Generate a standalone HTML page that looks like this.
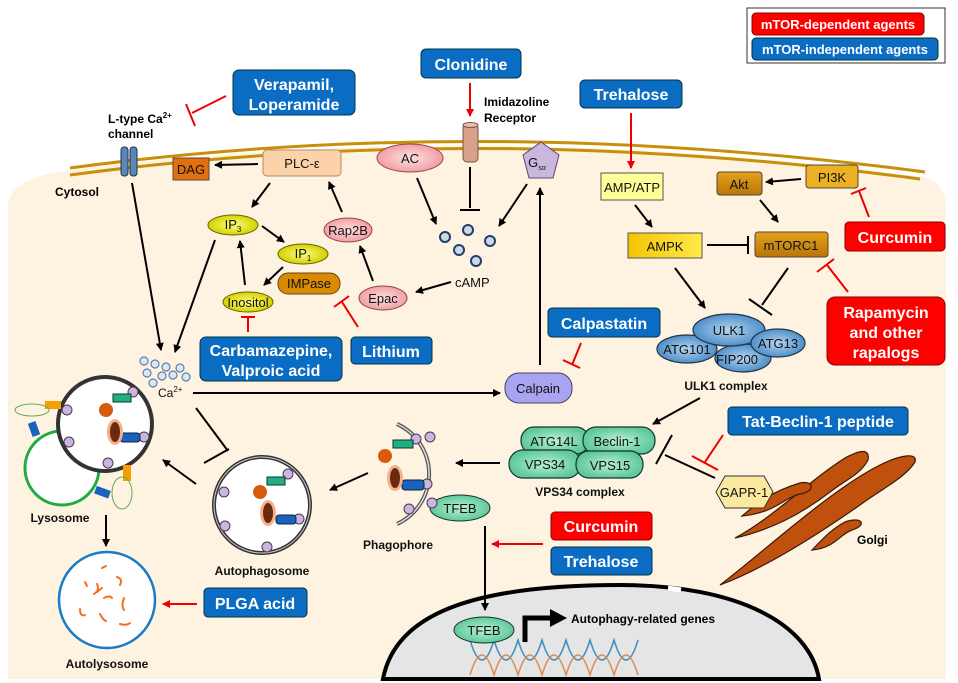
<!DOCTYPE html>
<html><head><meta charset="utf-8"><style>
html,body{margin:0;padding:0;background:#fff}
svg{display:block}
text{font-family:"Liberation Sans",Arial,sans-serif}
.b{font-weight:bold}
.w{fill:#fff;font-weight:bold;text-anchor:middle}
.n{font-size:13px;text-anchor:middle;fill:#111}
.lb{font-size:12px;font-weight:bold;fill:#111;text-anchor:middle}
</style></head><body>
<svg width="958" height="683" viewBox="0 0 958 683" xmlns="http://www.w3.org/2000/svg">
<defs>
<marker id="a" markerWidth="8" markerHeight="8" refX="7" refY="4" orient="auto" markerUnits="userSpaceOnUse"><path d="M0,0 L8,4 L0,8 Z" fill="#000"/></marker>
<marker id="r" markerWidth="8" markerHeight="8" refX="7" refY="4" orient="auto" markerUnits="userSpaceOnUse"><path d="M0,0 L8,4 L0,8 Z" fill="#e00"/></marker>
<linearGradient id="gy" x1="0" x2="1"><stop offset="0" stop-color="#f5c400"/><stop offset="1" stop-color="#ffe94a"/></linearGradient>
<linearGradient id="gd" x1="0" x2="0" y1="0" y2="1"><stop offset="0" stop-color="#e3a21a"/><stop offset="1" stop-color="#b9750a"/></linearGradient>
<radialGradient id="gb"><stop offset="0" stop-color="#b3d4ef"/><stop offset="1" stop-color="#4f8fc8"/></radialGradient>
<radialGradient id="gg"><stop offset="0" stop-color="#b9f0d3"/><stop offset="1" stop-color="#5fc99a"/></radialGradient>
<radialGradient id="gp"><stop offset="0" stop-color="#fde0e0"/><stop offset="1" stop-color="#f0a0a5"/></radialGradient>
<radialGradient id="gyl"><stop offset="0" stop-color="#fbff80"/><stop offset="1" stop-color="#d4d000"/></radialGradient>
</defs>

<!-- cell -->
<path d="M8,205 Q10,178 70,170 Q480,118 925,177 Q946,185 946,205 L946,679 L8,679 Z" fill="#fdf3e0"/>
<path d="M70,168 Q480,113 925,172" fill="none" stroke="#c8900a" stroke-width="3"/>
<path d="M70,175 Q480,120 920,179" fill="none" stroke="#c8900a" stroke-width="3"/>

<!-- legend -->
<rect x="747" y="8" width="198" height="55" fill="#fff" stroke="#333"/>
<rect x="752" y="13" width="172" height="22" rx="4" fill="#f00" stroke="#800"/>
<text x="838" y="29" class="w" font-size="13">mTOR-dependent agents</text>
<rect x="752" y="38" width="186" height="22" rx="4" fill="#0a6cc2" stroke="#033"/>
<text x="845" y="54" class="w" font-size="13">mTOR-independent agents</text>

<!-- top agents -->
<rect x="233" y="70" width="122" height="45" rx="6" fill="#0a6cc2" stroke="#034"/>
<text x="294" y="90" class="w" font-size="16">Verapamil,</text>
<text x="294" y="110" class="w" font-size="16">Loperamide</text>
<line x1="226" y1="96" x2="192" y2="113" stroke="#e00" stroke-width="2"/>
<line x1="186" y1="104" x2="195" y2="126" stroke="#e00" stroke-width="2"/>

<rect x="421" y="49" width="100" height="29" rx="5" fill="#0a6cc2" stroke="#034"/>
<text x="471" y="70" class="w" font-size="16">Clonidine</text>
<line x1="470" y1="83" x2="470" y2="116" stroke="#e00" stroke-width="2" marker-end="url(#r)"/>
<text x="484" y="106" font-size="12" class="b">Imidazoline</text>
<text x="484" y="122" font-size="12" class="b">Receptor</text>

<rect x="580" y="80" width="102" height="28" rx="5" fill="#0a6cc2" stroke="#034"/>
<text x="631" y="100" class="w" font-size="16">Trehalose</text>
<line x1="631" y1="113" x2="631" y2="168" stroke="#e00" stroke-width="2" marker-end="url(#r)"/>

<!-- L-type -->
<text x="108" y="123" font-size="12" class="b">L-type Ca<tspan font-size="8" dy="-5">2+</tspan></text>
<text x="108" y="138" font-size="12" class="b">channel</text>
<rect x="121" y="147" width="7" height="29" rx="3" fill="#5a86b8" stroke="#234"/>
<rect x="130" y="147" width="7" height="29" rx="3" fill="#5a86b8" stroke="#234"/>
<text x="55" y="196" font-size="12" class="b">Cytosol</text>
<line x1="132" y1="183" x2="161" y2="350" stroke="#000" stroke-width="2" marker-end="url(#a)"/>

<!-- DAG, PLC -->
<rect x="173" y="158" width="36" height="22" fill="#e07010" stroke="#643"/>
<text x="191" y="174" class="n">DAG</text>
<rect x="263" y="150" width="78" height="26" rx="4" fill="#fcd3a8" stroke="#b86"/>
<text x="302" y="168" class="n">PLC-ε</text>
<line x1="258" y1="164" x2="215" y2="165" stroke="#000" stroke-width="2" marker-end="url(#a)"/>
<line x1="270" y1="183" x2="252" y2="207" stroke="#000" stroke-width="2" marker-end="url(#a)"/>

<ellipse cx="233" cy="225" rx="25" ry="10" fill="url(#gyl)" stroke="#660"/>
<text x="233" y="229" class="n">IP<tspan font-size="8" dy="3">3</tspan></text>
<ellipse cx="303" cy="254" rx="25" ry="10" fill="url(#gyl)" stroke="#660"/>
<text x="303" y="258" class="n">IP<tspan font-size="8" dy="3">1</tspan></text>
<rect x="278" y="273" width="62" height="21" rx="10" fill="#d98a00" stroke="#642"/>
<text x="309" y="288" class="n">IMPase</text>
<ellipse cx="248" cy="302" rx="25" ry="10" fill="url(#gyl)" stroke="#660"/>
<text x="248" y="307" class="n">Inositol</text>
<line x1="262" y1="226" x2="284" y2="242" stroke="#000" stroke-width="2" marker-end="url(#a)"/>
<line x1="283" y1="267" x2="264" y2="285" stroke="#000" stroke-width="2" marker-end="url(#a)"/>
<line x1="245" y1="285" x2="240" y2="241" stroke="#000" stroke-width="2" marker-end="url(#a)"/>
<line x1="215" y1="240" x2="175" y2="352" stroke="#000" stroke-width="2" marker-end="url(#a)"/>

<ellipse cx="348" cy="230" rx="24" ry="12" fill="url(#gp)" stroke="#944"/>
<text x="348" y="235" class="n">Rap2B</text>
<ellipse cx="383" cy="298" rx="24" ry="12" fill="url(#gp)" stroke="#944"/>
<text x="383" y="303" class="n">Epac</text>
<line x1="373" y1="281" x2="360" y2="246" stroke="#000" stroke-width="2" marker-end="url(#a)"/>
<line x1="342" y1="212" x2="329" y2="182" stroke="#000" stroke-width="2" marker-end="url(#a)"/>
<line x1="451" y1="282" x2="416" y2="292" stroke="#000" stroke-width="2" marker-end="url(#a)"/>

<!-- Carbamazepine / Lithium -->
<line x1="248" y1="332" x2="248" y2="317" stroke="#e00" stroke-width="2"/>
<line x1="241" y1="317" x2="255" y2="317" stroke="#e00" stroke-width="2"/>
<line x1="358" y1="327" x2="342" y2="302" stroke="#e00" stroke-width="2"/>
<line x1="334" y1="307" x2="349" y2="296" stroke="#e00" stroke-width="2"/>
<rect x="200" y="337" width="142" height="44" rx="6" fill="#0a6cc2" stroke="#034"/>
<text x="271" y="356" class="w" font-size="16">Carbamazepine,</text>
<text x="271" y="376" class="w" font-size="16">Valproic acid</text>
<rect x="351" y="337" width="81" height="27" rx="4" fill="#0a6cc2" stroke="#034"/>
<text x="391" y="357" class="w" font-size="16">Lithium</text>

<!-- AC, receptor, Gsa, cAMP -->
<ellipse cx="410" cy="158" rx="33" ry="14" fill="url(#gp)" stroke="#944"/>
<text x="410" y="163" class="n">AC</text>
<rect x="463" y="124" width="15" height="38" rx="4" fill="#d9a08a" stroke="#754"/>
<ellipse cx="470.5" cy="125" rx="7.5" ry="2.5" fill="#e9c0b0" stroke="#754"/>
<line x1="470" y1="167" x2="470" y2="208" stroke="#000" stroke-width="2"/>
<line x1="460" y1="210" x2="480" y2="210" stroke="#000" stroke-width="2"/>
<polygon points="541,142 559,155 553,178 529,178 523,155" fill="#c8b8de" stroke="#646"/>
<text x="537" y="167" class="n">G<tspan font-size="7" dy="3">sα</tspan></text>
<line x1="417" y1="178" x2="436" y2="224" stroke="#000" stroke-width="2" marker-end="url(#a)"/>
<line x1="527" y1="184" x2="499" y2="226" stroke="#000" stroke-width="2" marker-end="url(#a)"/>
<g fill="#cfd8e2" stroke="#1f3f70" stroke-width="2">
<circle cx="445" cy="237" r="5"/><circle cx="468" cy="230" r="5"/><circle cx="459" cy="250" r="5"/><circle cx="476" cy="261" r="5"/><circle cx="490" cy="241" r="5"/>
</g>
<text x="455" y="287" font-size="13" fill="#111">cAMP</text>

<!-- Calpain -->
<line x1="540" y1="365" x2="540" y2="188" stroke="#000" stroke-width="2" marker-end="url(#a)"/>
<rect x="505" y="373" width="67" height="30" rx="14" fill="#a8a4f0" stroke="#446"/>
<text x="538" y="393" class="n">Calpain</text>
<rect x="548" y="308" width="112" height="29" rx="4" fill="#0a6cc2" stroke="#034"/>
<text x="604" y="329" class="w" font-size="16">Calpastatin</text>
<line x1="581" y1="343" x2="572" y2="365" stroke="#e00" stroke-width="2"/>
<line x1="563" y1="360" x2="580" y2="368" stroke="#e00" stroke-width="2"/>
<text x="158" y="397" font-size="12" fill="#111">Ca<tspan font-size="8" dy="-5">2+</tspan></text>
<g fill="#dde6f3" stroke="#5d7fa8" stroke-width="1.2">
<circle cx="144" cy="361" r="4"/><circle cx="155" cy="364" r="4"/><circle cx="166" cy="367" r="4"/><circle cx="180" cy="368" r="4"/><circle cx="147" cy="373" r="4"/><circle cx="162" cy="376" r="4"/><circle cx="173" cy="375" r="4"/><circle cx="186" cy="377" r="4"/><circle cx="153" cy="383" r="4"/>
</g>
<line x1="193" y1="393" x2="500" y2="393" stroke="#000" stroke-width="2" marker-end="url(#a)"/>

<!-- AMPK/mTOR -->
<rect x="601" y="173" width="62" height="27" fill="#ffff99" stroke="#555"/>
<text x="632" y="192" class="n">AMP/ATP</text>
<line x1="635" y1="205" x2="652" y2="227" stroke="#000" stroke-width="2" marker-end="url(#a)"/>
<rect x="628" y="233" width="74" height="25" fill="url(#gy)" stroke="#555"/>
<text x="665" y="251" class="n">AMPK</text>
<line x1="707" y1="245" x2="748" y2="245" stroke="#000" stroke-width="2"/>
<line x1="748" y1="236" x2="748" y2="254" stroke="#000" stroke-width="2"/>
<rect x="755" y="232" width="73" height="25" rx="3" fill="url(#gd)" stroke="#543"/>
<text x="791" y="250" class="n">mTORC1</text>
<rect x="717" y="172" width="45" height="23" rx="3" fill="url(#gd)" stroke="#543"/>
<text x="739" y="189" class="n">Akt</text>
<rect x="806" y="165" width="52" height="23" rx="3" fill="#ecb024" stroke="#543"/>
<text x="832" y="182" class="n">PI3K</text>
<line x1="801" y1="179" x2="766" y2="182" stroke="#000" stroke-width="2" marker-end="url(#a)"/>
<line x1="760" y1="200" x2="778" y2="222" stroke="#000" stroke-width="2" marker-end="url(#a)"/>
<rect x="845" y="222" width="100" height="29" rx="4" fill="#f00" stroke="#800"/>
<text x="895" y="243" class="w" font-size="16">Curcumin</text>
<line x1="869" y1="217" x2="859" y2="191" stroke="#e00" stroke-width="2"/>
<line x1="851" y1="194" x2="866" y2="188" stroke="#e00" stroke-width="2"/>
<rect x="827" y="297" width="118" height="68" rx="8" fill="#f00" stroke="#800"/>
<text x="886" y="318" class="w" font-size="16">Rapamycin</text>
<text x="886" y="338" class="w" font-size="16">and other</text>
<text x="886" y="358" class="w" font-size="16">rapalogs</text>
<line x1="848" y1="292" x2="827" y2="265" stroke="#e00" stroke-width="2"/>
<line x1="817" y1="272" x2="834" y2="259" stroke="#e00" stroke-width="2"/>
<line x1="675" y1="268" x2="705" y2="308" stroke="#000" stroke-width="2" marker-end="url(#a)"/>
<line x1="788" y1="268" x2="762" y2="305" stroke="#000" stroke-width="2"/>
<line x1="749" y1="299" x2="772" y2="315" stroke="#000" stroke-width="2"/>

<!-- ULK1 complex -->
<g stroke="#234" stroke-width="1.2">
<ellipse cx="687" cy="349" rx="30" ry="14" fill="url(#gb)"/>
<ellipse cx="743" cy="358" rx="28" ry="14" fill="url(#gb)"/>
<ellipse cx="729" cy="330" rx="36" ry="16" fill="url(#gb)"/>
<ellipse cx="778" cy="343" rx="27" ry="14" fill="url(#gb)"/>
</g>
<text x="729" y="335" class="n">ULK1</text>
<text x="687" y="354" class="n">ATG101</text>
<text x="737" y="364" class="n">FIP200</text>
<text x="778" y="348" class="n">ATG13</text>
<text x="726" y="390" class="lb">ULK1 complex</text>
<line x1="700" y1="398" x2="653" y2="424" stroke="#000" stroke-width="2" marker-end="url(#a)"/>

<!-- VPS34 -->
<rect x="728" y="407" width="180" height="28" rx="4" fill="#0a6cc2" stroke="#034"/>
<text x="818" y="427" class="w" font-size="16">Tat-Beclin-1 peptide</text>
<g stroke="#133" stroke-width="1.2" fill="url(#gg)">
<rect x="521" y="427" width="68" height="27" rx="13"/>
<rect x="583" y="427" width="72" height="27" rx="13"/>
<rect x="509" y="450" width="72" height="28" rx="14"/>
<rect x="576" y="451" width="67" height="27" rx="13"/>
</g>
<text x="554" y="446" class="n">ATG14L</text>
<text x="617" y="446" class="n">Beclin-1</text>
<text x="545" y="469" class="n">VPS34</text>
<text x="610" y="470" class="n">VPS15</text>
<text x="580" y="496" class="lb">VPS34 complex</text>
<line x1="715" y1="478" x2="665" y2="455" stroke="#000" stroke-width="2"/>
<line x1="656" y1="464" x2="672" y2="435" stroke="#000" stroke-width="2"/>
<line x1="723" y1="435" x2="705" y2="462" stroke="#e00" stroke-width="2"/>
<line x1="692" y1="456" x2="718" y2="470" stroke="#e00" stroke-width="2"/>
<line x1="500" y1="463" x2="456" y2="463" stroke="#000" stroke-width="2" marker-end="url(#a)"/>

<!-- Golgi -->
<g fill="#c0500e" stroke="#3a1a05" stroke-width="1.2">
<path d="M720,585 C760,555 830,490 880,465 C900,455 918,452 915,462 C905,478 880,490 860,505 C810,540 760,570 720,585 Z"/>
<path d="M735,538 C770,520 810,480 845,458 C860,450 870,448 868,460 C860,475 845,480 830,492 C800,515 770,530 735,538 Z"/>
<path d="M742,516 C755,505 770,492 800,483 C815,480 815,492 800,494 C785,497 775,513 742,516 Z"/>
<path d="M812,550 C822,540 830,530 845,522 C862,516 868,525 852,530 C840,534 835,548 812,550 Z"/>
</g>
<polygon points="725,476 764,476 773,492 764,508 725,508 716,492" fill="#fbe9a0" stroke="#333"/>
<text x="744" y="497" class="n">GAPR-1</text>
<text x="857" y="544" font-size="12" class="b">Golgi</text>

<!-- nucleus -->
<path d="M383,679 C395,615 470,585 620,585 C740,585 810,625 819,679 Z" fill="#e5e5e5" stroke="#000" stroke-width="4"/>
<line x1="668" y1="588" x2="681" y2="590" stroke="#fff" stroke-width="5"/>
<g fill="none" stroke-width="1.5">
<path d="M470,640 q12,40 24,0 q12,40 24,0 q12,40 24,0 q12,40 24,0 q12,40 24,0 q12,40 24,0 q12,40 24,0" stroke="#3a8cc0"/>
<path d="M470,675 q12,-40 24,0 q12,-40 24,0 q12,-40 24,0 q12,-40 24,0 q12,-40 24,0 q12,-40 24,0 q12,-40 24,0" stroke="#e08a50"/>
</g>
<ellipse cx="460" cy="508" rx="30" ry="13" fill="url(#gg)" stroke="#133"/>
<text x="460" y="513" class="n">TFEB</text>
<line x1="485" y1="526" x2="485" y2="610" stroke="#000" stroke-width="2" marker-end="url(#a)"/>
<ellipse cx="484" cy="630" rx="30" ry="13" fill="url(#gg)" stroke="#133"/>
<text x="484" y="635" class="n">TFEB</text>
<path d="M525,642 L525,618 L552,618" fill="none" stroke="#000" stroke-width="5"/>
<polygon points="550,609 567,618 550,627" fill="#000"/>
<text x="571" y="623" font-size="12" class="b">Autophagy-related genes</text>
<rect x="551" y="512" width="101" height="28" rx="4" fill="#f00" stroke="#800"/>
<text x="601" y="532" class="w" font-size="16">Curcumin</text>
<rect x="551" y="547" width="101" height="28" rx="4" fill="#0a6cc2" stroke="#034"/>
<text x="601" y="567" class="w" font-size="16">Trehalose</text>
<line x1="543" y1="544" x2="492" y2="544" stroke="#e00" stroke-width="2" marker-end="url(#r)"/>

<!-- phagophore -->
<path d="M397,424 A55,55 0 0 1 397,524" fill="none" stroke="#555" stroke-width="4"/>
<path d="M397,424 A55,55 0 0 1 397,524" fill="none" stroke="#ddd" stroke-width="1.5"/>
<g fill="#c8b8e0" stroke="#535"><circle cx="416" cy="439" r="5"/><circle cx="430" cy="437" r="5"/><circle cx="427" cy="484" r="5"/><circle cx="432" cy="503" r="5"/><circle cx="409" cy="509" r="5"/></g>
<rect x="393" y="440" width="20" height="8" fill="#1fb080" stroke="#133"/>
<rect x="402" y="480" width="22" height="10" rx="3" fill="#1a62c0" stroke="#123"/>
<ellipse cx="395" cy="478" rx="8" ry="13" fill="#f7b08c"/><ellipse cx="395" cy="478" rx="5" ry="10" fill="#6a2a10"/>
<circle cx="385" cy="456" r="7" fill="#d85a0c"/>
<text x="398" y="549" class="lb">Phagophore</text>
<line x1="368" y1="473" x2="330" y2="490" stroke="#000" stroke-width="2" marker-end="url(#a)"/>

<!-- autophagosome -->
<circle cx="262" cy="505" r="48" fill="#fff" stroke="#333" stroke-width="4"/>
<circle cx="262" cy="505" r="48" fill="none" stroke="#ccc" stroke-width="1"/>
<g fill="#c8b8e0" stroke="#535"><circle cx="288" cy="474" r="5"/><circle cx="224" cy="492" r="5"/><circle cx="225" cy="526" r="5"/><circle cx="299" cy="519" r="5"/><circle cx="267" cy="547" r="5"/></g>
<rect x="267" y="477" width="18" height="8" fill="#1fb080" stroke="#133"/>
<rect x="276" y="515" width="20" height="9" rx="3" fill="#1a62c0" stroke="#123"/>
<ellipse cx="268" cy="513" rx="8" ry="13" fill="#f7b08c"/><ellipse cx="268" cy="513" rx="5" ry="10" fill="#6a2a10"/>
<circle cx="260" cy="492" r="7" fill="#d85a0c"/>
<text x="262" y="575" class="lb">Autophagosome</text>
<line x1="196" y1="408" x2="228" y2="451" stroke="#000" stroke-width="2"/>
<line x1="204" y1="463" x2="229" y2="449" stroke="#000" stroke-width="2"/>
<line x1="196" y1="484" x2="163" y2="460" stroke="#000" stroke-width="2" marker-end="url(#a)"/>

<!-- lysosome & fused -->
<circle cx="62" cy="468" r="37" fill="#fff" stroke="#22aa44" stroke-width="3"/>
<circle cx="105" cy="424" r="47" fill="#fff" stroke="#333" stroke-width="4"/>
<g fill="#c8b8e0" stroke="#535"><circle cx="133" cy="392" r="5"/><circle cx="67" cy="410" r="5"/><circle cx="69" cy="442" r="5"/><circle cx="144" cy="437" r="5"/><circle cx="108" cy="463" r="5"/></g>
<rect x="113" y="394" width="18" height="8" fill="#1fb080" stroke="#133"/>
<rect x="120" y="433" width="20" height="9" rx="3" fill="#1a62c0" stroke="#123"/>
<ellipse cx="115" cy="432" rx="8" ry="13" fill="#f7b08c"/><ellipse cx="115" cy="432" rx="5" ry="10" fill="#6a2a10"/>
<circle cx="106" cy="410" r="7" fill="#d85a0c"/>
<rect x="45" y="401" width="16" height="8" fill="#f5a000"/>
<rect x="30" y="422" width="8" height="14" fill="#1a62c0" transform="rotate(-20 34 429)"/>
<rect x="123" y="465" width="8" height="16" fill="#f5a000"/>
<rect x="95" y="488" width="15" height="8" fill="#1a62c0" transform="rotate(20 102 492)"/>
<ellipse cx="32" cy="410" rx="17" ry="6" fill="none" stroke="#6a5" stroke-width="1"/>
<ellipse cx="122" cy="493" rx="10" ry="16" fill="none" stroke="#6a5" stroke-width="1"/>
<text x="60" y="522" class="lb">Lysosome</text>
<line x1="106" y1="515" x2="106" y2="546" stroke="#000" stroke-width="2" marker-end="url(#a)"/>
<circle cx="107" cy="600" r="48" fill="#fff" stroke="#1a7cc8" stroke-width="2.5"/>
<g stroke="#f07020" stroke-width="2" fill="none" stroke-linecap="round">
<path d="M102,568 l4,-2"/><path d="M117,577 q6,2 3,8"/><path d="M97,584 q3,6 -3,10"/><path d="M85,582 l2,4"/><path d="M104,598 q6,-3 8,0"/><path d="M124,598 q-3,8 0,12"/><path d="M80,609 q0,8 5,6"/><path d="M100,614 q3,6 6,7"/><path d="M120,624 q6,2 10,-1"/><path d="M97,592 l5,-4"/>
</g>
<text x="107" y="668" class="lb">Autolysosome</text>
<rect x="204" y="588" width="103" height="29" rx="4" fill="#0a6cc2" stroke="#034"/>
<text x="255" y="609" class="w" font-size="16">PLGA acid</text>
<line x1="197" y1="604" x2="163" y2="604" stroke="#e00" stroke-width="2" marker-end="url(#r)"/>
</svg>
</body></html>
